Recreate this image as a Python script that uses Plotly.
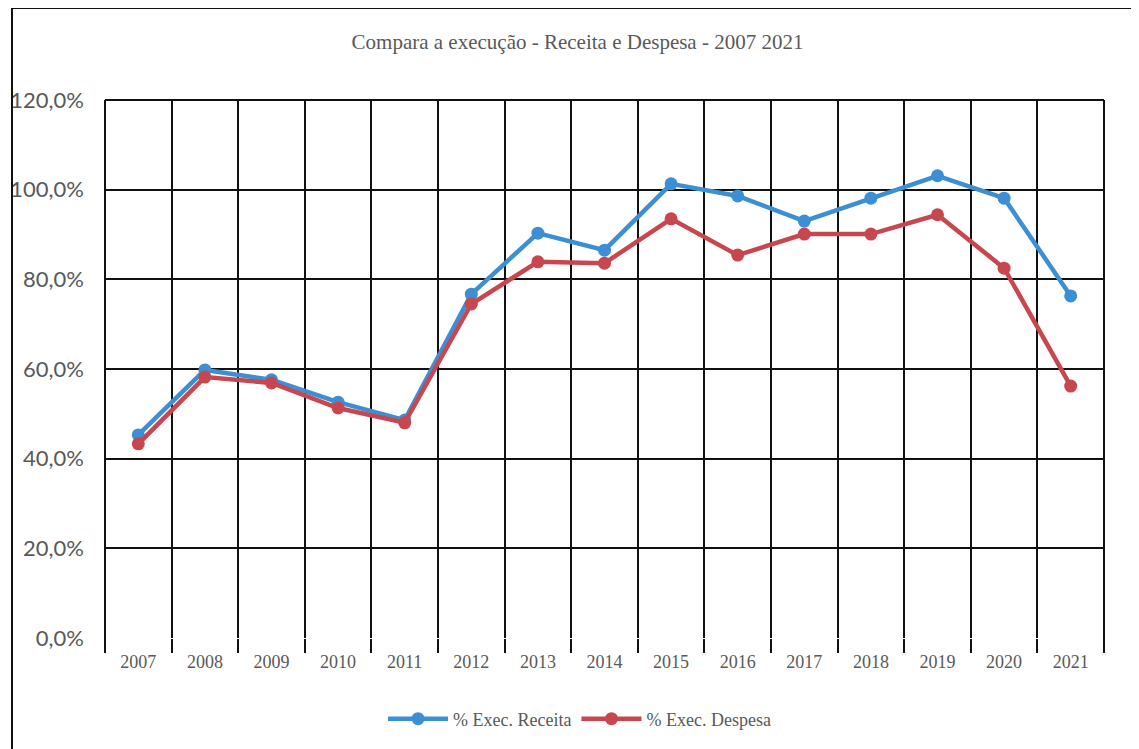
import plotly.graph_objects as go

anos = ["2007", "2008", "2009", "2010", "2011", "2012", "2013", "2014",
        "2015", "2016", "2017", "2018", "2019", "2020", "2021"]
exec_receita = [45.3, 59.8, 57.6, 52.6, 48.6, 76.7, 90.3, 86.5,
                101.3, 98.6, 93.0, 98.1, 103.1, 98.1, 76.3]
exec_despesa = [43.3, 58.2, 56.9, 51.3, 48.0, 74.5, 83.9, 83.6,
                93.5, 85.4, 90.1, 90.1, 94.4, 82.5, 56.2]
y_ticks = [0, 20, 40, 60, 80, 100, 120]

BLUE = "#3c8fd2"
RED = "#c8474f"
GRAY = "#595959"
BLACK = "#111111"

ML, MR, MT, MB = 97, 43, 92, 119
PW, PH = 1139 - ML - MR, 749 - MT - MB

fig = go.Figure()
fig.add_trace(go.Scatter(x=anos, y=exec_receita, name="% Exec. Receita",
                         mode="lines+markers",
                         line=dict(color=BLUE, width=4.5),
                         marker=dict(color=BLUE, size=13)))
fig.add_trace(go.Scatter(x=anos, y=exec_despesa, name="% Exec. Despesa",
                         mode="lines+markers",
                         line=dict(color=RED, width=4.5),
                         marker=dict(color=RED, size=13)))

fig.update_layout(
    width=1139, height=749,
    margin=dict(l=ML, r=MR, t=MT, b=MB, autoexpand=False),
    paper_bgcolor="white", plot_bgcolor="white",
    title=dict(text="Compara a execução - Receita e Despesa - 2007 2021",
               x=0.5, xanchor="center", y=0.955, yanchor="middle",
               font=dict(family="Liberation Serif", size=21, color=GRAY)),
    legend=dict(orientation="h", x=0.475, xanchor="center", y=-81 / PH,
                yanchor="middle",
                font=dict(family="Liberation Serif", size=18, color=GRAY),
                itemwidth=60),
    showlegend=True,
)
fig.update_xaxes(type="category", tickson="boundaries", range=[-0.5, 14.5],
                 showgrid=True, gridcolor=BLACK, gridwidth=2,
                 ticks="outside", ticklen=14, tickcolor=BLACK, tickwidth=2,
                 showline=False, zeroline=False, ticklabelstandoff=11,
                 tickfont=dict(family="Liberation Serif", size=18, color=GRAY))
fig.update_yaxes(range=[0, 120], tickvals=y_ticks,
                 ticktext=[f"{v},0%" for v in y_ticks],
                 showgrid=True, gridcolor=BLACK, gridwidth=2,
                 zeroline=False, showline=False,
                 ticks="", ticklabelstandoff=20,
                 tickfont=dict(family="Lato", size=22, color=GRAY))

# plot-area edges: top gridline at 120, left and right boundaries
fig.add_shape(type="line", xref="paper", yref="paper", x0=0, x1=1, y0=1, y1=1,
              line=dict(color=BLACK, width=2))
fig.add_shape(type="line", xref="paper", yref="paper", x0=0, x1=0, y0=-14 / PH, y1=1,
              line=dict(color=BLACK, width=2))
fig.add_shape(type="line", xref="paper", yref="paper", x0=1, x1=1, y0=-14 / PH, y1=1,
              line=dict(color=BLACK, width=2))
# chart frame (top and left edges of the outer box)
top_y = 1 + MT / PH
left_x = (4 - ML) / PW
fig.add_shape(type="line", xref="paper", yref="paper",
              x0=left_x, x1=1 + MR / PW, y0=top_y, y1=top_y,
              line=dict(color=BLACK, width=2))
fig.add_shape(type="line", xref="paper", yref="paper",
              x0=left_x, x1=left_x, y0=-MB / PH, y1=top_y,
              line=dict(color=BLACK, width=2))

fig.write_html("out.html")
